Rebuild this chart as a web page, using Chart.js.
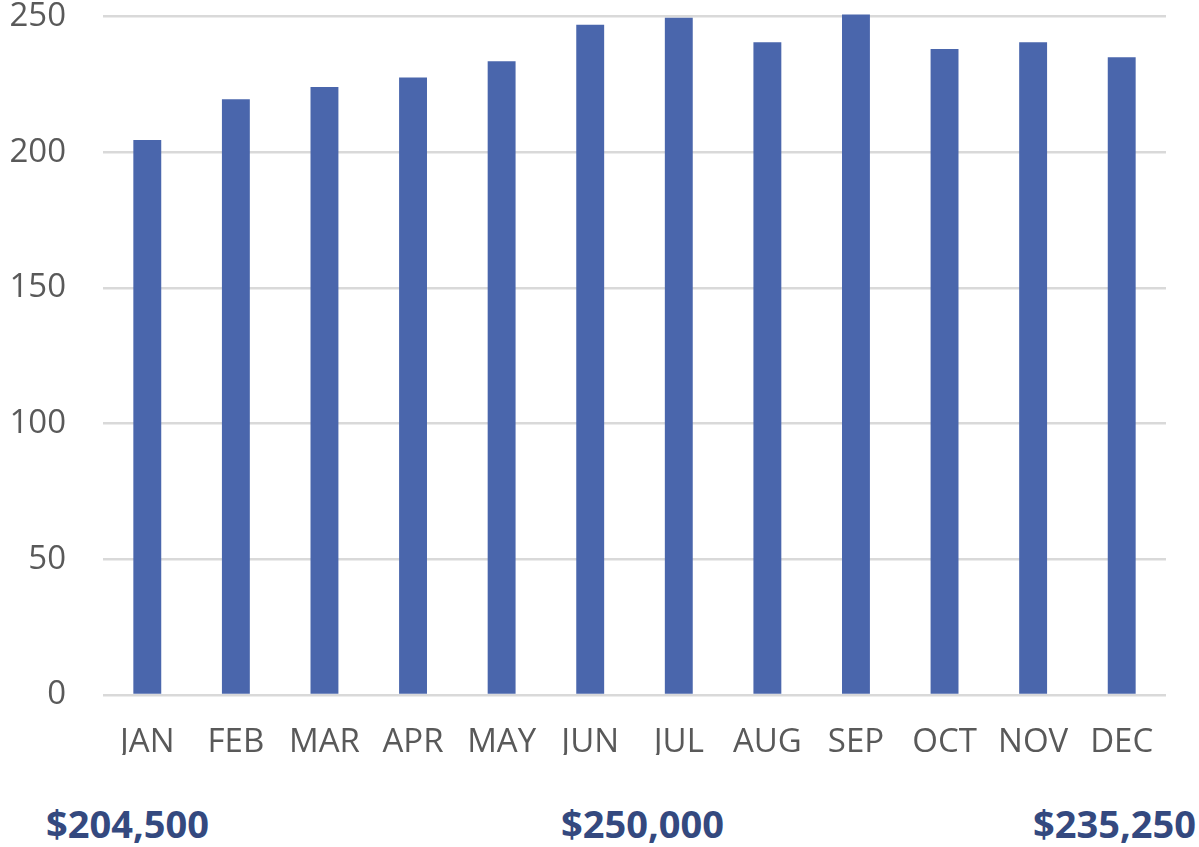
<!DOCTYPE html>
<html>
<head>
<meta charset="utf-8">
<script src="https://cdn.jsdelivr.net/npm/chart.js@4/dist/chart.umd.min.js"></script>
<style>
  html, body { margin: 0; padding: 0; background: #ffffff; }
  #wrap { position: relative; width: 1199px; height: 847px; overflow: hidden; }
  #chartBox { position: absolute; left: 0; top: 0; width: 1199px; height: 770px; }
  .sum { position: absolute; top: 798px; font-family: "Open Sans", sans-serif; font-weight: 700;
         font-size: 38px; line-height: 50px; color: #34497f; white-space: nowrap; }
</style>
</head>
<body>
<div id="wrap">
  <div id="chartBox"><canvas id="c"></canvas></div>
  <div class="sum" id="s0" style="left:46px"></div>
  <div class="sum" id="s1" style="left:561px"></div>
  <div class="sum" id="s2" style="right:3px"></div>
</div>
<script>
const months = ["JAN","FEB","MAR","APR","MAY","JUN","JUL","AUG","SEP","OCT","NOV","DEC"];
const values = [204.5, 219.5, 224, 227.5, 233.5, 247, 249.5, 240.5, 250.7, 238, 240.5, 235];
const yTicks = [0, 50, 100, 150, 200, 250];
const summaryLabels = ["$204,500", "$250,000", "$235,250"];

summaryLabels.forEach((t, i) => { document.getElementById("s" + i).textContent = t; });

new Chart(document.getElementById("c"), {
  type: "bar",
  data: {
    labels: months,
    datasets: [{
      data: values,
      backgroundColor: "#4a66ac",
      borderWidth: 0,
      categoryPercentage: 1,
      barPercentage: 0.315,
      clip: false
    }]
  },
  options: {
    responsive: true,
    maintainAspectRatio: false,
    animation: false,
    layout: { padding: { left: 0, right: 33, top: 1, bottom: 15 } },
    plugins: { legend: { display: false }, tooltip: { enabled: false } },
    scales: {
      x: {
        grid: { display: false, drawTicks: false },
        border: { display: false },
        ticks: { color: "#595959", font: { family: "Open Sans", size: 33, lineHeight: 1.2 }, padding: 28, maxRotation: 0, autoSkip: false },
        afterFit: (s) => { s.height = 60; }
      },
      y: {
        min: yTicks[0],
        max: yTicks[yTicks.length - 1],
        afterBuildTicks: (s) => { s.ticks = yTicks.map(v => ({ value: v })); },
        grid: { color: "#d9d9d9", lineWidth: 2.5, drawTicks: true, tickLength: 37, tickColor: "rgba(0,0,0,0)" },
        border: { display: false },
        ticks: { color: "#595959", font: { family: "Open Sans", size: 33, lineHeight: 1 }, padding: 0 },
        afterFit: (s) => { s.width = 103; }
      }
    }
  }
});
</script>
</body>
</html>
